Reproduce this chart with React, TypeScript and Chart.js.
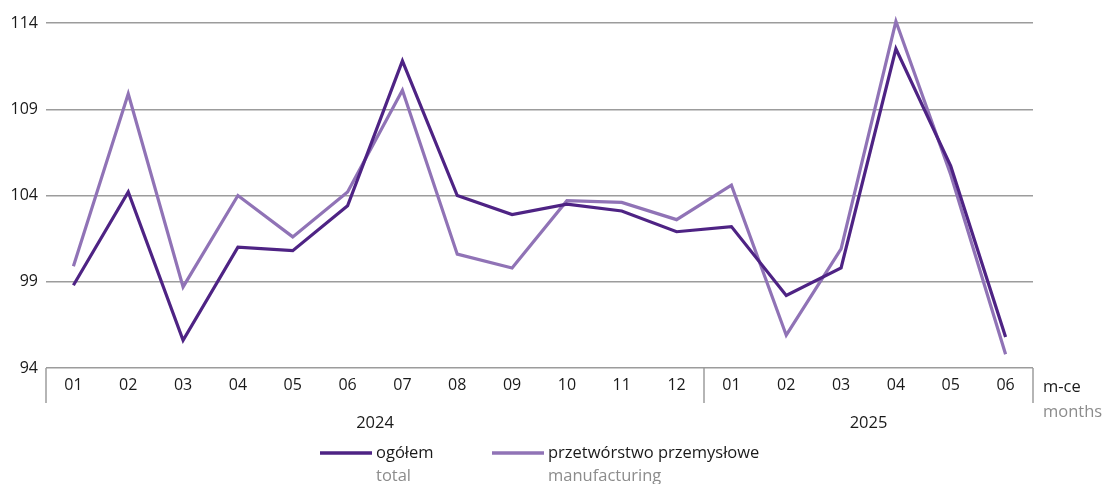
import React, { useEffect, useRef } from "react";
import { Chart, registerables } from "chart.js";

Chart.register(...registerables);

const months = ["01","02","03","04","05","06","07","08","09","10","11","12","01","02","03","04","05","06"];
const yearLabels = ["2024", "2025"];
const yearSpans = [12, 6];
const totalValues = [98.8,104.2,95.6,101.0,100.8,103.4,111.8,104.0,102.9,103.5,103.1,101.9,102.2,98.2,99.8,112.5,105.7,95.8];
const manufacturingValues = [99.9,109.9,98.7,104.0,101.6,104.2,110.1,100.6,99.8,103.7,103.6,102.6,104.6,95.9,100.9,114.1,105.2,94.8];
const seriesLabelsPl = ["ogółem", "przetwórstwo przemysłowe"];
const seriesLabelsEn = ["total", "manufacturing"];
const axisUnitPl = "m-ce";
const axisUnitEn = "months";

const DARK = "#4e2384";
const LIGHT = "#9073b6";
const GRID = "#9c9c9c";
const FONT = "'Open Sans', 'Noto Sans', sans-serif";

const extrasPlugin = {
  id: "extras",
  afterDraw(chart: any) {
    const ctx = chart.ctx;
    const x = chart.scales.x;
    const area = chart.chartArea;
    const bottom = area.bottom;
    const half = (x.getPixelForValue(1) - x.getPixelForValue(0)) / 2;
    ctx.save();
    ctx.strokeStyle = GRID;
    ctx.lineWidth = 1.5;
    let idx = 0;
    const bounds: number[] = [x.getPixelForValue(0) - half];
    yearSpans.forEach((s) => {
      idx += s;
      bounds.push(x.getPixelForValue(idx - 1) + half);
    });
    bounds.forEach((bx) => {
      ctx.beginPath();
      ctx.moveTo(bx, bottom);
      ctx.lineTo(bx, bottom + 35);
      ctx.stroke();
    });
    ctx.fillStyle = "#1a1a1a";
    ctx.font = `16.5px ${FONT}`;
    ctx.textAlign = "center";
    ctx.textBaseline = "middle";
    yearLabels.forEach((yl, i) => {
      ctx.fillText(yl, (bounds[i] + bounds[i + 1]) / 2, bottom + 55);
    });
    ctx.textAlign = "left";
    ctx.fillText(axisUnitPl, area.right + 10, bottom + 19);
    ctx.fillStyle = "#8c8c8c";
    ctx.fillText(axisUnitEn, area.right + 10, bottom + 44);
    const legendX = [320, 492];
    const colors = [DARK, LIGHT];
    const ly = 453;
    legendX.forEach((lx, i) => {
      ctx.strokeStyle = colors[i];
      ctx.lineWidth = 3.5;
      ctx.beginPath();
      ctx.moveTo(lx, ly);
      ctx.lineTo(lx + 52, ly);
      ctx.stroke();
      ctx.fillStyle = "#1a1a1a";
      ctx.fillText(seriesLabelsPl[i], lx + 56, ly);
      ctx.fillStyle = "#8c8c8c";
      ctx.fillText(seriesLabelsEn[i], lx + 56, ly + 23);
    });
    ctx.restore();
  },
};

export default function App() {
  const ref = useRef<HTMLCanvasElement | null>(null);
  useEffect(() => {
    if (!ref.current) return;
    const chart = new Chart(ref.current, {
      type: "line",
      data: {
        labels: months,
        datasets: [
          {
            label: seriesLabelsPl[0],
            data: totalValues,
            borderColor: DARK,
            backgroundColor: DARK,
            borderWidth: 3.2,
            pointRadius: 0,
            tension: 0,
            clip: false,
            order: 1,
          },
          {
            label: seriesLabelsPl[1],
            data: manufacturingValues,
            borderColor: LIGHT,
            backgroundColor: LIGHT,
            borderWidth: 3.2,
            pointRadius: 0,
            tension: 0,
            clip: false,
            order: 2,
          },
        ],
      },
      options: {
        responsive: false,
        animation: false,
        layout: { padding: { top: 23, right: 70, bottom: 0, left: 0 } },
        plugins: { legend: { display: false }, tooltip: { enabled: false } },
        scales: {
          x: {
            type: "category",
            offset: true,
            grid: { display: false, drawTicks: false },
            border: { display: false },
            ticks: {
              color: "#1a1a1a",
              font: { family: FONT, size: 16 },
              padding: 8,
              maxRotation: 0,
              autoSkip: false,
            },
            afterFit(scale: any) {
              scale.height = 116;
            },
          },
          y: {
            min: 94,
            max: 114,
            grid: { color: GRID, lineWidth: 1.5, drawTicks: false },
            border: { display: false },
            ticks: {
              stepSize: 5,
              color: "#1a1a1a",
              font: { family: FONT, size: 16 },
              padding: 8,
            },
            afterFit(scale: any) {
              scale.width = 46;
            },
          },
        },
      },
      plugins: [extrasPlugin],
    });
    return () => chart.destroy();
  }, []);
  return (
    <div style={{ position: "fixed", left: 0, top: 0, width: 1103, height: 484, background: "#fff" }}>
      <canvas ref={ref} width={1103} height={484} />
    </div>
  );
}
